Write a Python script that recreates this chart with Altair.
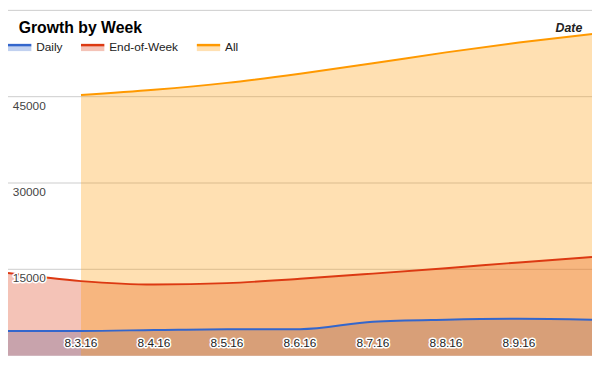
import altair as alt
import pandas as pd

# ---- data ----
dates = ["2016-08-02", "2016-08-03", "2016-08-04", "2016-08-05", "2016-08-06",
         "2016-08-07", "2016-08-08", "2016-08-09", "2016-08-10"]
series = ["Daily", "End-of-Week", "All"]
daily = [4300, 4300, 4450, 4600, 4600, 5900, 6250, 6400, 6250]
end_of_week = [14350, 12950, 12350, 12600, 13350, 14250, 15200, 16200, 17150]
all_values = [None, 45300, 46200, 47400, 49000, 50800, 52700, 54400, 55900]
tick_dates = ["2016-08-03", "2016-08-04", "2016-08-05", "2016-08-06",
              "2016-08-07", "2016-08-08", "2016-08-09"]
tick_labels = ["8.3.16", "8.4.16", "8.5.16", "8.6.16", "8.7.16", "8.8.16", "8.9.16"]
y_label_values = [15000, 30000, 45000]
grid_values = [15000, 30000, 45000, 60000]
title_text = "Growth by Week"
x_title = "Date"

colors = ["#3366cc", "#dc3912", "#ff9900"]
FONT = "Liberation Sans"

W, H = 592, 350
sx, sy = W / 600.0, H / 371.0

rows = []
for name, vals in zip(series, [daily, end_of_week, all_values]):
    for d, v in zip(dates, vals):
        if v is not None:
            rows.append({"date": d, "series": name, "value": v})
df = pd.DataFrame(rows)

ticks_df = pd.DataFrame({"date": tick_dates, "label": tick_labels})
ylab_df = pd.DataFrame({"v": y_label_values})
grid_df = pd.DataFrame({"v": grid_values})
legend_df = pd.DataFrame({"series": series, "idx": list(range(len(series)))})

x_dom = [alt.DateTime(year=2016, month=8, date=2, utc=True),
         alt.DateTime(year=2016, month=8, date=10, utc=True)]


def xenc():
    return alt.X("date:T", scale=alt.Scale(type="utc", domain=x_dom), axis=None)


def yenc(field="value"):
    return alt.Y(f"{field}:Q", scale=alt.Scale(domain=[0, 60000], nice=False, zero=True),
                 axis=None, stack=None)


cscale = alt.Scale(domain=series, range=colors)

grid = alt.Chart(grid_df).mark_rule(color="#cccccc", strokeWidth=1).encode(y=yenc("v"))

areas = alt.Chart(df).mark_area(opacity=0.3, interpolate="monotone").encode(
    x=xenc(), y=yenc(), color=alt.Color("series:N", scale=cscale, legend=None),
    detail="series:N")

lines = alt.Chart(df).mark_line(strokeWidth=2, interpolate="monotone").encode(
    x=xenc(), y=yenc(), color=alt.Color("series:N", scale=cscale, legend=None),
    detail="series:N")

# x tick labels inside the plot, with white halo
xlab_y = 357 * sy
xlab_halo = alt.Chart(ticks_df).mark_text(
    font=FONT, fontSize=12, align="center", baseline="middle",
    stroke="white", strokeWidth=3, strokeJoin="round", fill="white").encode(
    x=xenc(), y=alt.value(xlab_y), text="label:N")
xlab = alt.Chart(ticks_df).mark_text(
    font=FONT, fontSize=12, align="center", baseline="middle", fill="#222222").encode(
    x=xenc(), y=alt.value(xlab_y), text="label:N")

# y labels inside the plot
ylab_halo = alt.Chart(ylab_df).mark_text(
    font=FONT, fontSize=12, align="left", baseline="top", dy=4,
    stroke="white", strokeWidth=3, strokeJoin="round", fill="white").encode(
    x=alt.value(5 * sx), y=yenc("v"), text=alt.Text("v:Q", format="d"))
ylab = alt.Chart(ylab_df).mark_text(
    font=FONT, fontSize=12, align="left", baseline="top", dy=4, fill="#444444").encode(
    x=alt.value(5 * sx), y=yenc("v"), text=alt.Text("v:Q", format="d"))

# title and x-axis title
title = alt.Chart(pd.DataFrame({"t": [title_text]})).mark_text(
    font=FONT, fontSize=16, fontWeight="bold", align="left", baseline="alphabetic",
    fill="#000000").encode(x=alt.value(11 * sx), y=alt.value(24 * sy), text="t:N")
date_title = alt.Chart(pd.DataFrame({"t": [x_title]})).mark_text(
    font=FONT, fontSize=12.5, fontWeight="bold", fontStyle="italic", align="right",
    baseline="alphabetic", fill="#222222").encode(
    x=alt.value(590 * sx), y=alt.value(23 * sy), text="t:N")

# legend
leg_x = alt.X("idx:Q", scale=alt.Scale(domain=[0, 1, 2], range=[12 * sx, 87 * sx, 206 * sx]),
              axis=None)
sw = 24 * sx
leg_fill = alt.Chart(legend_df).mark_point(
    filled=True, opacity=0.3, size=sw * sw,
    shape="M-1,0.02H1V0.42H-1Z").encode(
    x=leg_x, y=alt.value(38.5 * sy),
    color=alt.Color("series:N", scale=cscale, legend=None))
leg_line = alt.Chart(legend_df).mark_point(
    filled=True, opacity=1, size=sw * sw,
    shape="M-1,-0.2H1V0.02H-1Z").encode(
    x=leg_x, y=alt.value(38.5 * sy),
    color=alt.Color("series:N", scale=cscale, legend=None))
leg_text = alt.Chart(legend_df).mark_text(
    font=FONT, fontSize=12, align="left", baseline="alphabetic", dx=17 * sx,
    fill="#222222").encode(x=leg_x, y=alt.value(43.5 * sy), text="series:N")

chart = alt.layer(
    grid, areas, lines, xlab_halo, xlab, ylab_halo, ylab,
    title, date_title, leg_fill, leg_line, leg_text
).resolve_scale(x="independent").properties(
    width=W, height=H, padding=0,
    autosize=alt.AutoSizeParams(type="none")
).configure_view(stroke=None)

chart.save("out.html", embed_options={"renderer": "svg", "actions": False})
